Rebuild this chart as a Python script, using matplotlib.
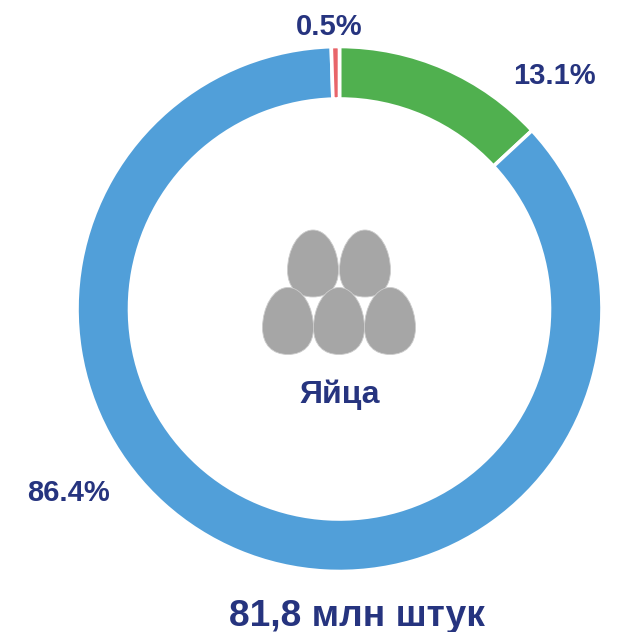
import matplotlib.pyplot as plt
from matplotlib.patches import PathPatch
from matplotlib.path import Path

plt.rcParams['font.family'] = ['Liberation Sans', 'DejaVu Sans']

shares = [13.1, 86.4, 0.5]
labels = ['13.1%', '86.4%', '0.5%']
colors = ['#50b04f', '#519fd9', '#e8656a']
text_color = '#26347f'
W, H = 618, 632


def egg(x, y, w=25.5, h=33.5):
    verts = [(0, 1), (0.58, 1), (1, 0.4), (1, -0.2), (1, -0.72), (0.6, -1), (0, -1),
             (-0.6, -1), (-1, -0.72), (-1, -0.2), (-1, 0.4), (-0.58, 1), (0, 1)]
    codes = [Path.MOVETO] + [Path.CURVE4] * 12
    return Path([(x + vx * w, y + vy * h) for vx, vy in verts], codes)


fig = plt.figure(figsize=(W / 100, H / 100), dpi=100)
ax = fig.add_axes([0, 0, 1, 1])

# pixel coords, y flipped because the pie is drawn upward
cx, cy, r = 339.5, H - 309, 262.5
ax.pie(shares, colors=colors, center=(cx, cy), radius=r, startangle=90,
       counterclock=False, frame=True,
       wedgeprops=dict(width=52.5, edgecolor='white', linewidth=2.6))
ax.set_xlim(0, W)
ax.set_ylim(0, H)
ax.set_aspect('auto')
ax.axis('off')

egg_centers = [(313, 263.5), (365, 263.5), (288, 321), (339, 321), (390, 321)]
for ex, ey in egg_centers:
    ax.add_patch(PathPatch(egg(ex, H - ey), facecolor='#a6a6a6', edgecolor='#cccccc', linewidth=0.6))

ax.text(339.5, H - 395, 'Яйца', ha='center', va='center', fontsize=23, fontweight='bold', color=text_color)
ax.text(554, H - 76, labels[0], ha='center', va='center', fontsize=21, fontweight='bold', color=text_color)
ax.text(69, H - 493, labels[1], ha='center', va='center', fontsize=21, fontweight='bold', color=text_color)
ax.text(329, H - 27, labels[2], ha='center', va='center', fontsize=21, fontweight='bold', color=text_color)
ax.text(356.5, H - 616, '81,8 млн штук', ha='center', va='center', fontsize=26.7, fontweight='bold', color=text_color)

fig.savefig('out.png', dpi=100)
